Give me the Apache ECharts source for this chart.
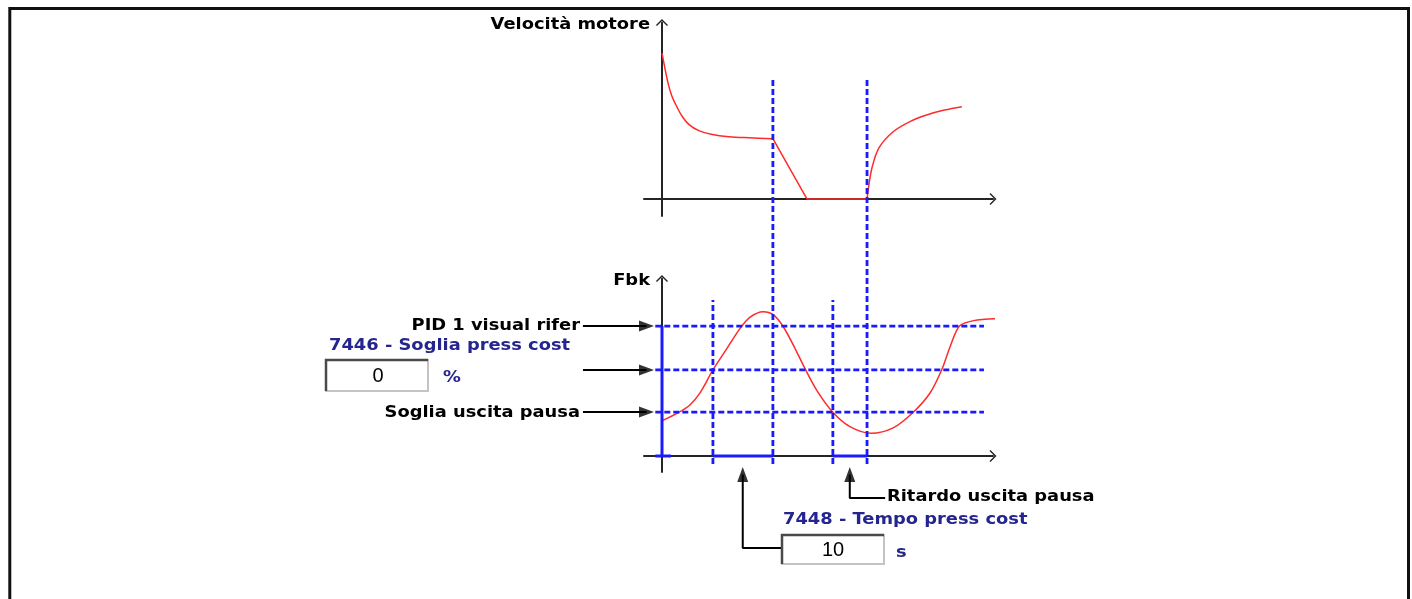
<!DOCTYPE html>
<html><head><meta charset="utf-8">
<script src="https://cdn.jsdelivr.net/npm/echarts@6/dist/echarts.min.js"></script>
<style>html,body{margin:0;padding:0;background:#fff}#c{width:1412px;height:599px}</style>
</head><body><div id="c"></div>
<script>
// ---- data (x: time units, y: % of axis) ----
const speedDecay = [[0,81],[1,71.5],[2,63],[3,57],[4.5,51],[6,46],[8,41.5],[11,38],[15,35.8],[20,34.6],[26,34],[33.1,33.5]];
const speedRampStop = [[33.1,33.5],[43.3,0],[61.2,0]];
const speedRise = [[61.2,0],[61.7,7],[62.7,17.5],[64.8,28.5],[68.9,37.2],[74,43],[79.2,46.8],[84.3,49.4],[89.5,51.3]];
const feedback = [[0,19.6],[4.9,24.1],[8.4,28.5],[11.5,35.5],[15.2,47.8],[19.3,59.5],[23.3,70.9],[26.3,77.2],[30.2,80.2],[33.2,78.5],[36.2,71.8],[39.5,60.5],[42.7,48.5],[46.2,36.5],[51,24.3],[56.1,16.3],[62.4,12.6],[69,15.6],[75,24.3],[80,35],[83.5,47.9],[86,60.7],[88.8,72.2],[93,75.2],[99.9,76.3]];
const levelValues = [72.2, 47.8, 24.4];           // PID 1 visual rifer, 7446 Soglia press cost, Soglia uscita pausa
const levelLabels = ['PID 1 visual rifer', '', 'Soglia uscita pausa'];
const pauseWindows = [[15.2, 33.1], [51, 61.2]];  // 7448 Tempo press cost, Ritardo uscita pausa
const stopTimes = [33.1, 61.2];                   // motor stop / restart
const pressCostThreshold = '0', pressCostUnit = '%';
const pressCostTime = '10', pressCostTimeUnit = 's';

// ---- styling / layout ----
const RED = '#ff2b2b', BLUE = '#1a1aff', BLACK = '#000', AXIS = '#252525', NAVY = '#25258f';
const chevron = 'path://M0,6L6,0L12,6L11,7L6,2L1,7Z';
const FONT = 'bold 15px "DejaVu Sans", Verdana, sans-serif';
const SX = 1.19;

const chart = echarts.init(document.getElementById('c'), null, {renderer: 'canvas'});

function axisX(gi) {
  return {type: 'value', gridIndex: gi, min: -5.37, max: 98.8,
    axisLine: {show: true, onZero: true, symbol: ['none', chevron], symbolSize: [12, 7], lineStyle: {color: AXIS, width: 2}},
    axisTick: {show: false}, axisLabel: {show: false}, splitLine: {show: false}};
}
function axisY(gi, min, max) {
  return {type: 'value', gridIndex: gi, min: min, max: max,
    axisLine: {show: true, onZero: true, symbol: ['none', chevron], symbolSize: [12, 7], lineStyle: {color: AXIS, width: 2}},
    axisTick: {show: false}, axisLabel: {show: false}, splitLine: {show: false}};
}
// annotation coordinate system (grid 2): same scale as the Fbk chart, wider extent, hidden axes
function seg(points, color, width, dash, z) {
  return {type: 'line', xAxisIndex: 2, yAxisIndex: 2, data: points, symbol: 'none', showSymbol: false,
    clip: false, silent: true, animation: false, z: z,
    lineStyle: {color: color, width: width, type: dash || 'solid', cap: 'butt'}};
}
function curve(gi, data, smooth) {
  return {type: 'line', xAxisIndex: gi, yAxisIndex: gi, data: data, symbol: 'none', showSymbol: false,
    smooth: smooth, clip: false, silent: true, animation: false, z: 3,
    lineStyle: {color: RED, width: 1.5}};
}

const DASH = [6, 3];
const series = [
  curve(0, speedDecay, 0.35),
  curve(0, speedRampStop, false),
  curve(0, speedRise, 0.35),
  curve(1, feedback, 0.3)
];
levelValues.forEach(v => series.push(seg([[-2, v], [96.1, v]], BLUE, 2.8, DASH, 5)));
pauseWindows.forEach(w => series.push(seg([[w[0], -4.4], [w[0], 86.7]], BLUE, 2.8, DASH, 5)));
stopTimes.forEach(t => series.push(seg([[t, -4.4], [t, 210]], BLUE, 2.8, DASH, 5)));
series.push(seg([[0, 0], [0, levelValues[0]]], BLUE, 3, 'solid', 6));
series.push(seg([[-2, 0], [2.7, 0]], BLUE, 3, 'solid', 6));
pauseWindows.forEach(w => series.push(seg([[w[0], 0], [w[1], 0]], BLUE, 3, 'solid', 6)));
levelValues.forEach(v => series.push(seg([[-23.6, v], [-4.6, v]], BLACK, 2, 'solid', 6)));
const arrowX = pauseWindows.map(w => (w[0] + w[1]) / 2 - 0.05);
series.push(seg([[35.8, -51.1], [arrowX[0], -51.1], [arrowX[0], -10.3]], BLACK, 2, 'solid', 6));
series.push(seg([[66.6, -23.3], [arrowX[1], -23.3], [arrowX[1], -10.3]], BLACK, 2, 'solid', 6));
const heads = levelValues.map(v => ({value: [-4.63, v], symbolRotate: -90}))
  .concat(arrowX.map(x => ({value: [x, -10.3], symbolRotate: 0})));
series.push({type: 'scatter', xAxisIndex: 2, yAxisIndex: 2, data: heads, symbol: 'triangle', symbolSize: [11, 15],
  clip: false, silent: true, animation: false, z: 7, itemStyle: {color: BLACK}});

function txt(t, x, y, align, color, font, sx) {
  return {type: 'text', x: x, y: y, scaleX: sx === undefined ? SX : sx, z: 100, silent: true,
    style: {text: t, font: font || FONT, fill: color || BLACK, align: align, verticalAlign: 'middle'}};
}
function inputBox(x, y, w, h) {
  return [
    {type: 'rect', shape: {x: x, y: y, width: w, height: h}, style: {fill: '#fff', stroke: '#c4c4c4', lineWidth: 2}, z: 90, silent: true},
    {type: 'polyline', shape: {points: [[x, y + h], [x, y], [x + w, y]]}, style: {stroke: '#4a4a4a', lineWidth: 2.5, fill: null}, z: 91, silent: true}
  ];
}

const graphics = [
  {type: 'rect', shape: {x: 9.8, y: 8.5, width: 1398.7, height: 700}, style: {fill: 'none', stroke: '#111', lineWidth: 3}, z: 100, silent: true},
  txt('Velocità motore', 650, 25, 'right'),
  txt('Fbk', 650, 281, 'right'),
  txt(levelLabels[0], 580, 326, 'right'),
  txt('7446 - Soglia press cost', 329, 346, 'left', NAVY),
  txt(levelLabels[2], 580, 413, 'right'),
  txt(pressCostUnit, 443, 378, 'left', NAVY),
  txt('Ritardo uscita pausa', 887, 497, 'left'),
  txt('7448 - Tempo press cost', 783, 520, 'left', NAVY),
  txt(pressCostTimeUnit, 896, 553, 'left', NAVY),
  ...inputBox(326, 360, 102, 31),
  ...inputBox(782, 535, 102, 29),
  txt(pressCostThreshold, 378, 376, 'center', BLACK, '20px "Liberation Sans", Arial, sans-serif', 1),
  txt(pressCostTime, 833, 550, 'center', BLACK, '20px "Liberation Sans", Arial, sans-serif', 1)
];

const hiddenX = {type: 'value', gridIndex: 2, min: -30, max: 98.8, show: false};
const hiddenY = {type: 'value', gridIndex: 2, min: -60, max: 220, show: false};

chart.setOption({
  animation: false,
  backgroundColor: '#fff',
  grid: [
    {left: 644, top: 22.5, width: 349, height: 193.5},
    {left: 644, top: 278.5, width: 349, height: 193.5},
    {left: 561.5, top: 60, width: 431.5, height: 504}
  ],
  xAxis: [axisX(0), axisX(1), hiddenX],
  yAxis: [axisY(0, -9.44, 98.06), axisY(1, -8.89, 98.61), hiddenY],
  series: series,
  graphic: graphics
});
</script></body></html>
